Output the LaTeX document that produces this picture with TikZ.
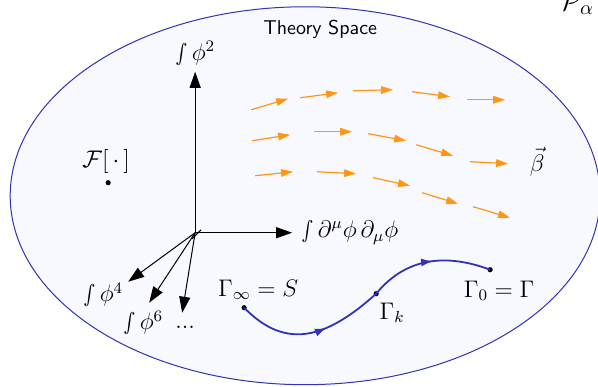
\documentclass[tikz,border=0pt]{standalone}
\usepackage{amsmath,amssymb}
\usepackage{tikz}
\usetikzlibrary{arrows.meta, positioning, decorations.markings}
\definecolor{spaceblue}{RGB}{50,50,180}
\definecolor{spacefill}{RGB}{248,248,255}
\definecolor{flowor}{RGB}{255,150,20}

\begin{document}
\begin{tikzpicture}[
    axis/.style={-{Triangle[length=8pt,width=5.5pt]}, line width=0.5pt},
    flow/.style={-{Triangle[length=6pt,width=3.8pt]}, flowor, line width=0.6pt},
    rgflow/.style={spaceblue, line width=0.9pt, postaction={decorate},
        decoration={markings,
            mark=at position 0.33 with {\arrow{Latex[length=6pt,width=4pt]}},
            mark=at position 0.79 with {\arrow{Latex[length=6pt,width=4pt]}}}},
    point/.style={circle, fill=black, inner sep=0pt, minimum size=2.6pt},
    lbl/.style={font=\large}
]
\useasboundingbox (-3.43,-2.71) rectangle (7.08,4.09);

% Theory space
\draw[spaceblue, fill=spacefill, line width=0.5pt] (1.933,0.650) ellipse (5.184cm and 3.321cm);
\node (title) at (2.197,3.567) {\sffamily Theory Space};
\node[font=\Large] (palpha) at (6.713,4.042) {$\mathcal{P}_\alpha$};

% Axes
\coordinate (O) at (0,0);
\coordinate (t2) at (0,2.829);
\coordinate (tkin) at (1.705,0);
\coordinate (t4) at (-1.177,-0.861);
\coordinate (t6) at (-0.808,-1.230);
\coordinate (tdots) at (-0.228,-1.406);
\node[lbl, above=0pt of t2] (phi2) {$\smallint\phi^2$};
\node[lbl, right=1pt of tkin] (kin) {$\smallint\partial^\mu\phi\,\partial_\mu\phi$};
\node[lbl] (phi4) at (-1.617,-1.090) {$\smallint\phi^4$};
\node[lbl] (phi6) at (-0.914,-1.582) {$\smallint\phi^6$};
\node[lbl] (dots) at (-0.176,-1.669) {...};
\draw[axis] (O) -- (t2);
\draw[axis] (O) -- (tkin);
\draw[axis] (O) -- (t4);
\draw[axis] (O) -- (t6);
\draw[axis] (O) -- (tdots);
\draw[line width=0.5pt] (-0.053,-0.105) -- (0.105,0.053);

% Generic functional
\node[point] (fdot) at (-1.529,0.879) {};
\node[lbl] (func) at (-1.564,1.248) {$\mathcal{F}[\,\cdot\,]$};

% Beta function flow
\foreach \xa/\ya/\xb/\yb in {
    0.984/2.161/1.634/2.355, 1.845/2.372/2.513/2.460, 2.777/2.495/3.479/2.513,
    3.813/2.478/4.481/2.390, 4.780/2.337/5.448/2.337,
    1.002/1.617/1.669/1.722, 2.091/1.775/2.759/1.775, 3.040/1.740/3.708/1.617,
    3.884/1.546/4.534/1.353, 4.833/1.248/5.500/1.213,
    1.054/1.002/1.722/1.072, 2.144/1.072/2.829/1.037, 3.128/0.967/3.778/0.826,
    3.989/0.703/4.622/0.510, 4.885/0.457/5.535/0.264} {
    \draw[flow] (\xa,\ya) -- (\xb,\yb);
}
\node[lbl] (beta) at (6.010,1.248) {$\vec{\beta}$};

% RG trajectory
\node[point] (ginf) at (0.861,-1.318) {};
\node[point] (gk) at (3.181,-1.072) {};
\node[point] (gzero) at (5.184,-0.650) {};
\draw[rgflow] (ginf.center) .. controls (1.582,-2.056) and (2.284,-1.880) .. (gk.center)
    .. controls (3.743,-0.387) and (4.481,-0.387) .. (gzero.center);
\node[lbl] (ginflbl) at (1.107,-1.002) {$\Gamma_\infty = S$};
\node[lbl] (gklbl) at (3.462,-1.406) {$\Gamma_k$};
\node[lbl] (gzerolbl) at (5.342,-1.019) {$\Gamma_0 = \Gamma$};

\end{tikzpicture}
\end{document}
